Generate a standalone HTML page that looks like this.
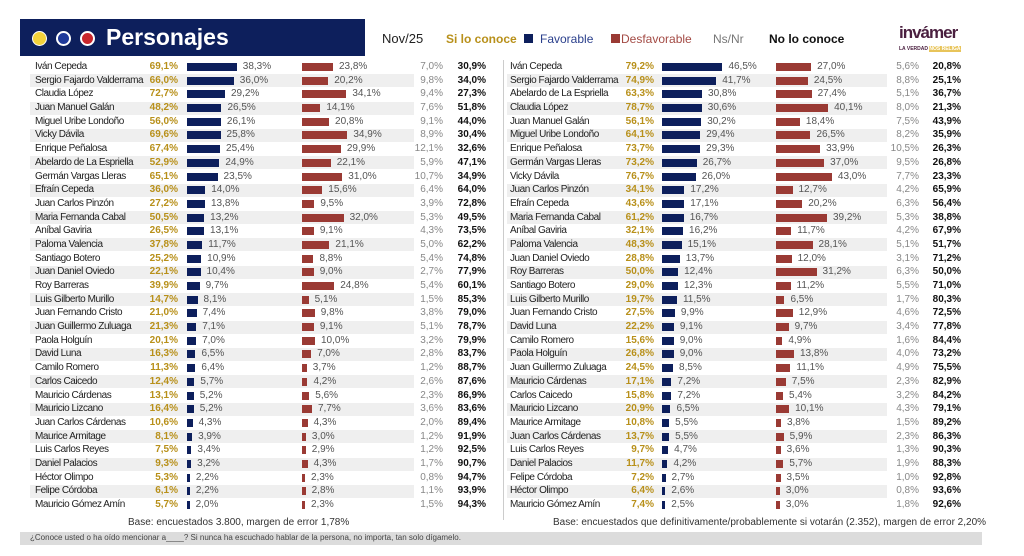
<!DOCTYPE html>
<html><head><meta charset="utf-8">
<style>
body{margin:0;width:1024px;height:556px;background:#fff;font-family:"Liberation Sans",sans-serif;overflow:hidden;position:relative}
.abs{position:absolute;white-space:nowrap}
.t{font-size:10px;color:#333;line-height:12px}
</style></head><body>
<div class="abs" style="left:20px;top:19px;width:345px;height:37px;background:#0d1f5c"></div>
<div class="abs" style="left:32px;top:31px;width:13px;height:13px;border-radius:50%;background:#f3d23b;border:1px solid #fff"></div>
<div class="abs" style="left:56px;top:31px;width:11px;height:11px;border-radius:50%;background:#1f3a9a;border:2px solid #fff"></div>
<div class="abs" style="left:80px;top:31px;width:11px;height:11px;border-radius:50%;background:#c8262c;border:2px solid #fff"></div>
<div class="abs" style="left:106px;top:24px;font-size:23px;font-weight:bold;color:#fff">Personajes</div>
<div class="abs" style="left:382px;top:31px;font-size:13px;color:#222">Nov/25</div>
<div class="abs" style="left:446px;top:32px;font-size:12px;font-weight:bold;color:#b8901a">Si lo conoce</div>
<div class="abs" style="left:524px;top:34px;width:9px;height:9px;background:#0d1f5c"></div>
<div class="abs" style="left:540px;top:32px;font-size:12px;color:#2a3f8c">Favorable</div>
<div class="abs" style="left:611px;top:34px;width:9px;height:9px;background:#9a3a34"></div>
<div class="abs" style="left:621px;top:32px;font-size:12px;color:#a34a44">Desfavorable</div>
<div class="abs" style="left:713px;top:32px;font-size:12px;color:#777">Ns/Nr</div>
<div class="abs" style="left:769px;top:32px;font-size:12px;font-weight:bold;color:#111">No lo conoce</div>
<div class="abs" style="left:899px;top:23px;font-size:17px;font-weight:bold;color:#4a1f3f;letter-spacing:-1px">invámer</div>
<div class="abs" style="left:899px;top:46px;font-size:5px;font-weight:bold;color:#4a1f3f">LA VERDAD <span style="background:#e8c45a;color:#fff">NOS RELIGA</span></div>
<div class="abs" style="left:503px;top:60px;width:1px;height:460px;background:#ccc"></div>
<div id="rows"></div>
<div class="abs t" style="left:128px;top:517px;font-size:10px">Base: encuestados 3.800, margen de error 1,78%</div>
<div class="abs t" style="left:553px;top:517px;font-size:10px">Base: encuestados que definitivamente/probablemente si votarán (2.352), margen de error 2,20%</div>
<div class="abs" style="left:20px;top:532px;width:962px;height:13px;background:#dcdcdc"></div>
<div class="abs" style="left:30px;top:533px;font-size:8px;color:#444">¿Conoce usted o ha oído mencionar a____? Si nunca ha escuchado hablar de la persona,  no importa, tan solo dígamelo.</div>
<script>
const leftNames=["Iván Cepeda","Sergio Fajardo Valderrama","Claudia López","Juan Manuel Galán","Miguel Uribe Londoño","Vicky Dávila","Enrique Peñalosa","Abelardo de La Espriella","Germán Vargas Lleras","Efraín Cepeda","Juan Carlos Pinzón","Maria Fernanda Cabal","Aníbal Gaviria","Paloma Valencia","Santiago Botero","Juan Daniel Oviedo","Roy Barreras","Luis Gilberto Murillo","Juan Fernando Cristo","Juan Guillermo Zuluaga","Paola Holguín","David Luna","Camilo Romero","Carlos Caicedo","Mauricio Cárdenas","Mauricio Lizcano","Juan Carlos Cárdenas","Maurice Armitage","Luis Carlos Reyes","Daniel Palacios","Héctor Olimpo","Felipe Córdoba","Mauricio Gómez Amín"];
const leftConoce=[69.1,66.0,72.7,48.2,56.0,69.6,67.4,52.9,65.1,36.0,27.2,50.5,26.5,37.8,25.2,22.1,39.9,14.7,21.0,21.3,20.1,16.3,11.3,12.4,13.1,16.4,10.6,8.1,7.5,9.3,5.3,6.1,5.7];
const leftFav=[38.3,36.0,29.2,26.5,26.1,25.8,25.4,24.9,23.5,14.0,13.8,13.2,13.1,11.7,10.9,10.4,9.7,8.1,7.4,7.1,7.0,6.5,6.4,5.7,5.2,5.2,4.3,3.9,3.4,3.2,2.2,2.2,2.0];
const leftDes=[23.8,20.2,34.1,14.1,20.8,34.9,29.9,22.1,31.0,15.6,9.5,32.0,9.1,21.1,8.8,9.0,24.8,5.1,9.8,9.1,10.0,7.0,3.7,4.2,5.6,7.7,4.3,3.0,2.9,4.3,2.3,2.8,2.3];
const leftNs=[7.0,9.8,9.4,7.6,9.1,8.9,12.1,5.9,10.7,6.4,3.9,5.3,4.3,5.0,5.4,2.7,5.4,1.5,3.8,5.1,3.2,2.8,1.2,2.6,2.3,3.6,2.0,1.2,1.2,1.7,0.8,1.1,1.5];
const leftNo=[30.9,34.0,27.3,51.8,44.0,30.4,32.6,47.1,34.9,64.0,72.8,49.5,73.5,62.2,74.8,77.9,60.1,85.3,79.0,78.7,79.9,83.7,88.7,87.6,86.9,83.6,89.4,91.9,92.5,90.7,94.7,93.9,94.3];
const rightNames=["Iván Cepeda","Sergio Fajardo Valderrama","Abelardo de La Espriella","Claudia López","Juan Manuel Galán","Miguel Uribe Londoño","Enrique Peñalosa","Germán Vargas Lleras","Vicky Dávila","Juan Carlos Pinzón","Efraín Cepeda","Maria Fernanda Cabal","Aníbal Gaviria","Paloma Valencia","Juan Daniel Oviedo","Roy Barreras","Santiago Botero","Luis Gilberto Murillo","Juan Fernando Cristo","David Luna","Camilo Romero","Paola Holguín","Juan Guillermo Zuluaga","Mauricio Cárdenas","Carlos Caicedo","Mauricio Lizcano","Maurice Armitage","Juan Carlos Cárdenas","Luis Carlos Reyes","Daniel Palacios","Felipe Córdoba","Héctor Olimpo","Mauricio Gómez Amín"];
const rightConoce=[79.2,74.9,63.3,78.7,56.1,64.1,73.7,73.2,76.7,34.1,43.6,61.2,32.1,48.3,28.8,50.0,29.0,19.7,27.5,22.2,15.6,26.8,24.5,17.1,15.8,20.9,10.8,13.7,9.7,11.7,7.2,6.4,7.4];
const rightFav=[46.5,41.7,30.8,30.6,30.2,29.4,29.3,26.7,26.0,17.2,17.1,16.7,16.2,15.1,13.7,12.4,12.3,11.5,9.9,9.1,9.0,9.0,8.5,7.2,7.2,6.5,5.5,5.5,4.7,4.2,2.7,2.6,2.5];
const rightDes=[27.0,24.5,27.4,40.1,18.4,26.5,33.9,37.0,43.0,12.7,20.2,39.2,11.7,28.1,12.0,31.2,11.2,6.5,12.9,9.7,4.9,13.8,11.1,7.5,5.4,10.1,3.8,5.9,3.6,5.7,3.5,3.0,3.0];
const rightNs=[5.6,8.8,5.1,8.0,7.5,8.2,10.5,9.5,7.7,4.2,6.3,5.3,4.2,5.1,3.1,6.3,5.5,1.7,4.6,3.4,1.6,4.0,4.9,2.3,3.2,4.3,1.5,2.3,1.3,1.9,1.0,0.8,1.8];
const rightNo=[20.8,25.1,36.7,21.3,43.9,35.9,26.3,26.8,23.3,65.9,56.4,38.8,67.9,51.7,71.2,50.0,71.0,80.3,72.5,77.8,84.4,73.2,75.5,82.9,84.2,79.1,89.2,86.3,90.3,88.3,92.8,93.6,92.6];

const fmt=v=>v.toFixed(1).replace('.',',')+'%';
const root=document.getElementById('rows');
const y0=67, dy=13.69, scale=1.3;
function panel(side,g,names,con,fav,des,ns,no){
  names.forEach((n,i)=>{
    const yc=y0+i*dy;
    if(i%2===1){const s=document.createElement('div');
      
      
      s.className='abs';s.style.cssText=`left:${g.sx}px;top:${yc-6.5}px;width:${g.sw}px;height:13px;background:#efefef`;root.appendChild(s);}
    const add=(txt,style,name)=>{const e=document.createElement('div');
      
      
      e.className='abs t';e.textContent=txt;e.style.cssText=`top:${yc-6}px;`+style;root.appendChild(e);return e;};
    add(n,`left:${g.name}px;color:#222;letter-spacing:-0.45px`,side+'-name');
    add(fmt(con[i]),`right:${1024-g.con}px;color:#b8901a;font-weight:bold`,side+'-conoce-value');
    const fw=fav[i]*scale, dw=des[i]*scale;
    const b=document.createElement('div');
    
    
    b.className='abs';b.style.cssText=`left:${g.fav}px;top:${yc-4}px;width:${fw}px;height:8px;background:#0d1f5c`;root.appendChild(b);
    add(fmt(fav[i]),`left:${g.fav+fw+6}px;color:#555`,side+'-favorable-value');
    const r=document.createElement('div');
    
    
    r.className='abs';r.style.cssText=`left:${g.des}px;top:${yc-4}px;width:${dw}px;height:8px;background:#9a3a34`;root.appendChild(r);
    add(fmt(des[i]),`left:${g.des+dw+6}px;color:#555`,side+'-desfavorable-value');
    add(fmt(ns[i]),`right:${1024-g.ns}px;color:#888`,side+'-nsnr-value');
    add(fmt(no[i]),`right:${1024-g.no}px;color:#111;font-weight:bold`,side+'-no-conoce-value');
  });
}
panel('left',{sx:30,sw:384,name:35,con:178,fav:187,des:302,ns:443,no:486},leftNames,leftConoce,leftFav,leftDes,leftNs,leftNo);
panel('right',{sx:507,sw:380,name:510,con:654,fav:662,des:776,ns:919,no:961},rightNames,rightConoce,rightFav,rightDes,rightNs,rightNo);
</script>
</body></html>
